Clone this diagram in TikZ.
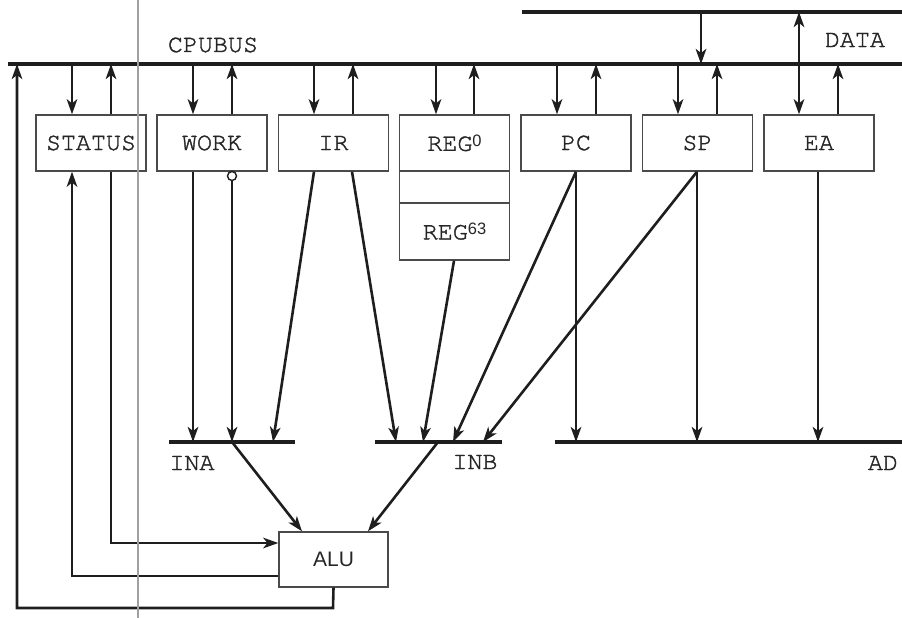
\documentclass[tikz,border=0pt]{standalone}
\usepackage{fontspec}
\IfFontExistsTF{TeX Gyre Cursor}{\setmonofont[FakeBold=1.5]{TeX Gyre Cursor}}{\setmonofont{Liberation Mono}}
\setsansfont{Liberation Sans}
\usetikzlibrary{arrows.meta}
\definecolor{wirec}{HTML}{1E1E1E}
\definecolor{boxc}{HTML}{4A4A4A}
\definecolor{txt}{HTML}{262626}
\definecolor{guide}{HTML}{A0A0A0}
\newcommand\lblfont{\fontsize{25}{30}\selectfont\ttfamily}
\newcommand\alufont{\fontsize{21}{25}\selectfont\sffamily}
\newcommand\regsup[1]{\raisebox{4.5pt}{\fontsize{16.5}{16.5}\selectfont\sffamily #1}}
\begin{document}
\begin{tikzpicture}[x=1pt,y=-1pt,
  tip/.tip={Stealth[length=15pt,width=10.5pt,inset=4pt]},
  box/.style={draw=boxc, line width=1.4pt, minimum width=110pt, minimum height=56pt, inner sep=0pt, font=\lblfont, text=txt},
  wire/.style={draw=wirec, line width=2.6pt},
  arr/.style={wire, -tip},
  darr/.style={wire, tip-tip},
  bus/.style={draw=wirec, line width=3.3pt},
  lab/.style={font=\lblfont, text=txt, inner sep=0pt}]
\useasboundingbox (0,0) rectangle (902,618);

% buses
\coordinate (cbL) at (8,64);    \coordinate (cbR) at (902,64);
\coordinate (dbL) at (522,12);  \coordinate (dbR) at (902,12);
\coordinate (inaL) at (169,442); \coordinate (inaR) at (295,442);
\coordinate (inbL) at (375,442); \coordinate (inbR) at (502,442);
\coordinate (adL) at (555,442);  \coordinate (adR) at (902,442);
\draw[bus] (cbL) -- (cbR);
\draw[bus] (dbL) -- (dbR);
\draw[bus] (inaL) -- (inaR);
\draw[bus] (inbL) -- (inbR);
\draw[bus] (adL) -- (adR);

% labels
\node[lab] (lcpubus) at (213,45) {CPUBUS};
\node[lab] (ldata) at (855,40) {DATA};
\node[lab] (lina) at (192,463) {INA};
\node[lab] (linb) at (475,462) {INB};
\node[lab] (lad) at (883,463) {AD};

% boxes
\node[box] (status) at (91,143) {STATUS};
\node[box] (work) at (212,143) {WORK};
\node[box] (ir) at (333.5,143) {IR};
\node[box] (reg0) at (454.5,143) {REG\regsup{0}};
\node[box, minimum height=32pt] (regm) at (454.5,187) {};
\node[box, minimum height=57pt] (reg63) at (454.5,231.5) {REG\regsup{63}};
\node[box] (pc) at (576,143) {PC};
\node[box] (sp) at (697.5,143) {SP};
\node[box] (ea) at (819,143) {EA};
\node[box, minimum width=109pt, minimum height=55pt, font=\alufont] (alu) at (333.5,559.5) {ALU};

% bus <-> boxes
\foreach \n/\d/\u in {status/72/111, work/193/232, ir/314/353, reg0/436/474, pc/557/596, sp/678/717} {
  \draw[arr] (\d,0 |- cbL) -- (\d,0 |- \n.north);
  \draw[arr] (\u,0 |- \n.north) -- (\u,0 |- cbL);
}
\draw[arr] (838,0 |- ea.north) -- (838,0 |- cbL);
\draw[darr] (799,0 |- dbL) -- (799,0 |- ea.north);
\draw[arr] (701,0 |- dbL) -- (701,0 |- cbL);

% to INA / INB / AD
\node[circle, draw=wirec, line width=1.4pt, minimum size=9pt, inner sep=0pt, fill=white] (inv) at (232,176) {};
\draw[arr] (193,0 |- work.south) -- (193,0 |- inaL);
\draw[arr] (inv.south) -- (232,0 |- inaL);
\draw[arr] (314,0 |- ir.south) -- (273,0 |- inaL);
\draw[arr] (352,0 |- ir.south) -- (396,0 |- inbL);
\draw[arr] (454,0 |- reg63.south) -- (423,0 |- inbL);
\draw[arr] (576,0 |- pc.south) -- (453,0 |- inbL);
\draw[arr] (576,0 |- pc.south) -- (576,0 |- adL);
\draw[arr] (697,0 |- sp.south) -- (483,0 |- inbL);
\draw[arr] (697,0 |- sp.south) -- (697,0 |- adL);
\draw[arr] (818,0 |- ea.south) -- (818,0 |- adL);

% to ALU
\draw[arr] (232,0 |- inaL) -- (302,0 |- alu.north);
\draw[arr] (438,0 |- inbL) -- (368,0 |- alu.north);

% ALU feedback
\draw[arr] (111,0 |- status.south) -- (111,543) -- (alu.west |- 0,543);
\draw[arr] (alu.west |- 0,576) -- (72,576) -- (72,0 |- status.south);
\draw[arr] (alu.south) -- (333,608) -- (17,608) -- (17,0 |- cbL);

% guide line
\draw[guide, line width=2.2pt] (138,0) -- (138,618);
\end{tikzpicture}
\end{document}
